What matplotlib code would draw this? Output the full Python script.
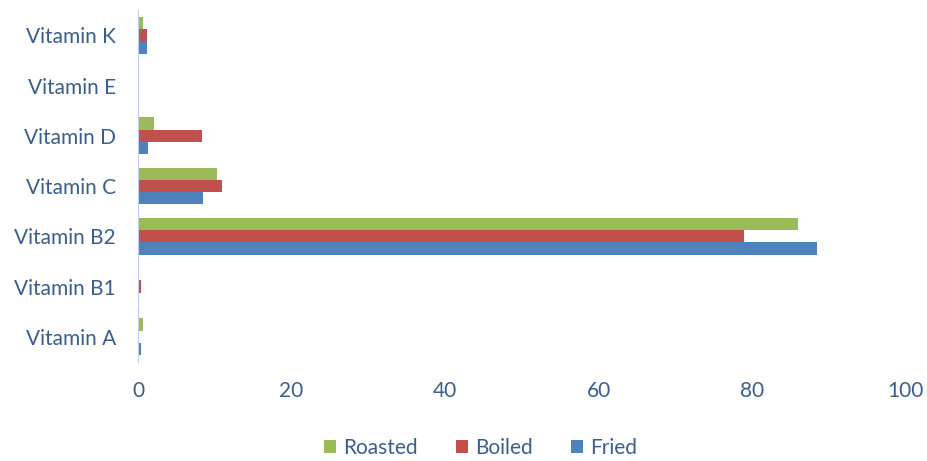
import numpy as np
import matplotlib.pyplot as plt

vitamins = ["Vitamin A", "Vitamin B1", "Vitamin B2", "Vitamin C",
            "Vitamin D", "Vitamin E", "Vitamin K"]
fried = [0.4, 0.1, 88.4, 8.5, 1.3, 0.05, 1.2]
boiled = [0.1, 0.4, 78.9, 10.9, 8.3, 0.05, 1.2]
roasted = [0.6, 0.1, 86.0, 10.3, 2.1, 0.1, 0.65]
xticks = [0, 20, 40, 60, 80, 100]

plt.rcParams['font.family'] = ['Lato', 'DejaVu Sans']
text_color = '#3b5e8c'

fig = plt.figure(figsize=(9.28, 4.61), dpi=100)
ax = fig.add_axes([0.1487, 0.215, 0.8273, 0.763])

y = np.arange(len(vitamins))
h = 0.245
ax.barh(y - h, fried, height=h, color='#4f81bd', label='Fried')
ax.barh(y, boiled, height=h, color='#c0504d', label='Boiled')
ax.barh(y + h, roasted, height=h, color='#9bbb59', label='Roasted')

ax.set_xlim(0, 100)
ax.set_ylim(-0.5, len(vitamins) - 0.5)
ax.set_xticks(xticks)
ax.set_yticks(y)
ax.set_yticklabels(vitamins)
ax.tick_params(axis='both', length=0, labelsize=15, colors=text_color)
ax.tick_params(axis='x', pad=14)
ax.tick_params(axis='y', pad=16)

for s in ['top', 'right', 'bottom']:
    ax.spines[s].set_visible(False)
ax.spines['left'].set_color('#bcd0ea')

handles, labels = ax.get_legend_handles_labels()
leg = fig.legend(handles[::-1], labels[::-1], loc='center',
                 bbox_to_anchor=(0.518, 0.028), ncol=3, frameon=False,
                 fontsize=15, handlelength=0.6, handleheight=0.6,
                 handletextpad=0.35, columnspacing=1.8)
for t in leg.get_texts():
    t.set_color(text_color)

fig.savefig('out.png', dpi=100)
